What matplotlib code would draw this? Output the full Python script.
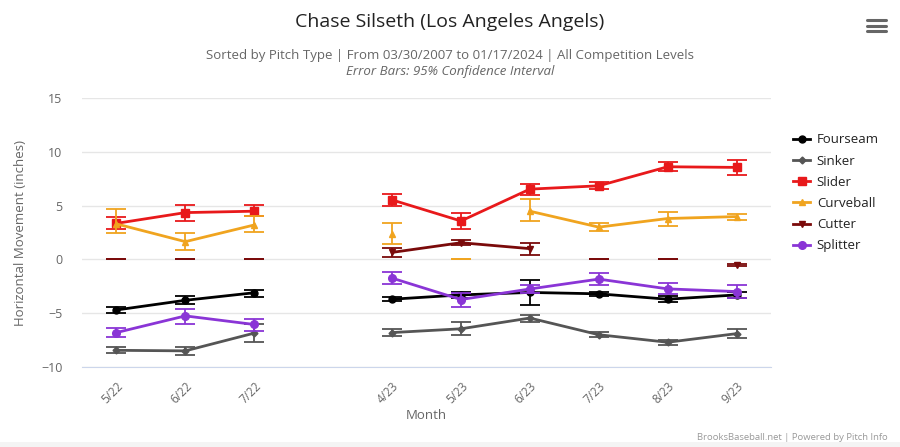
import numpy as np
import matplotlib
matplotlib.use("Agg")
import matplotlib.pyplot as plt
from matplotlib.patches import Rectangle

plt.rcParams['font.family'] = ['Open Sans', 'DejaVu Sans']

MONTHS = ['5/22', '6/22', '7/22', '', '4/23', '5/23', '6/23', '7/23', '8/23', '9/23']
PITCHES = ['Fourseam', 'Sinker', 'Slider', 'Curveball', 'Cutter', 'Splitter']
COLORS = ['#000000', '#555555', '#e8191b', '#f0a41f', '#7a0a0a', '#8a35d6']
MARKERS = ['o', 'D', 's', '^', 'v', 'o']
MSIZES = [5, 3.5, 5.5, 5, 5, 5.5]

# monthly averages (None = no pitches that month)
fourseam = [-4.7, -3.8, -3.1, None, -3.7, -3.3, -3.07, -3.2, -3.7, -3.3]
sinker = [-8.45, -8.5, -6.85, None, -6.8, -6.45, -5.45, -7.0, -7.7, -6.9]
slider = [3.35, 4.35, 4.48, None, 5.53, 3.57, 6.53, 6.84, 8.61, 8.55]
curveball = [3.3, 1.65, 3.2, None, 2.36, None, 4.48, 3.0, 3.8, 3.98]
cutter = [None, None, None, None, 0.65, 1.55, 1.0, None, None, -0.53]
splitter = [-6.8, -5.25, -6.05, None, -1.74, -3.73, -2.75, -1.83, -2.74, -2.99]

# 95% CI bounds
fourseam_lo = [-4.98, -4.13, -3.45, None, -3.89, -3.6, -4.2, -3.36, -3.95, -3.58]
fourseam_hi = [-4.45, -3.42, -2.8, None, -3.45, -3.05, -1.93, -2.99, -3.36, -2.99]
sinker_lo = [-8.7, -8.9, -7.7, None, -7.15, -7.06, -5.78, -7.25, -7.93, -7.28]
sinker_hi = [-8.18, -8.15, -6.0, None, -6.44, -5.85, -5.16, -6.78, -7.49, -6.5]
slider_lo = [2.8, 3.6, 4.04, None, 4.97, 2.8, 6.0, 6.53, 8.24, 7.84]
slider_hi = [3.98, 5.04, 5.04, None, 6.1, 4.32, 7.0, 7.18, 9.08, 9.24]
curveball_lo = [2.43, 0.9, 2.58, None, 1.46, 0.0, 3.6, 2.61, 3.11, 3.7]
curveball_hi = [4.66, 2.43, 4.04, None, 3.42, 0.0, 5.6, 3.36, 4.41, 4.23]
cutter_lo = [0.0, 0.0, 0.0, None, 0.22, 1.3, 0.4, 0.0, 0.0, -0.6]
cutter_hi = [0.0, 0.0, 0.0, None, 1.03, 1.84, 1.56, 0.0, 0.0, -0.46]
splitter_lo = [-7.24, -6.03, -6.62, None, -2.3, -4.38, -3.1, -2.4, -3.26, -3.58]
splitter_hi = [-6.34, -4.57, -5.5, None, -1.15, -3.1, -2.4, -1.27, -2.18, -2.4]

VALUES = [fourseam, sinker, slider, curveball, cutter, splitter]
LOWS = [fourseam_lo, sinker_lo, slider_lo, curveball_lo, cutter_lo, splitter_lo]
HIGHS = [fourseam_hi, sinker_hi, slider_hi, curveball_hi, cutter_hi, splitter_hi]


def to_arr(vals):
    return np.array([np.nan if v is None else v for v in vals], dtype=float)


fig = plt.figure(figsize=(9, 4.47), dpi=100)
ax = fig.add_axes([82 / 900, 1 - 367 / 447, 689 / 900, 269 / 447])

x = np.arange(len(MONTHS))
handles = []
for i, name in enumerate(PITCHES):
    y = to_arr(VALUES[i])
    lo = to_arr(LOWS[i])
    hi = to_arr(HIGHS[i])
    ok = ~np.isnan(lo)
    mid = (lo + hi) / 2
    ax.errorbar(x[ok], mid[ok], yerr=[mid[ok] - lo[ok], hi[ok] - mid[ok]], fmt='none',
                ecolor=COLORS[i], elinewidth=1.3, capsize=7, capthick=1.3, zorder=3 + i)
    h, = ax.plot(x, y, color=COLORS[i], lw=2, marker=MARKERS[i], ms=MSIZES[i],
                 mec=COLORS[i], mfc=COLORS[i], zorder=3 + i, label=name)
    handles.append(h)

ax.set_xlim(-0.5, len(MONTHS) - 0.5)
ax.set_ylim(-10, 15)
ax.set_yticks([-10, -5, 0, 5, 10, 15])
ax.set_xticks(x)
ax.set_xticklabels(MONTHS, rotation=45, ha='right', rotation_mode='anchor',
                   fontsize=8.5, color='#666666')
ax.tick_params(axis='x', length=0, pad=9)
ax.tick_params(axis='y', length=0, pad=14, labelsize=9, labelcolor='#666666')
ax.grid(axis='y', color='#e6e6e6', lw=1)
ax.set_axisbelow(True)
for s in ['top', 'right', 'left']:
    ax.spines[s].set_visible(False)
ax.spines['bottom'].set_color('#ccd6eb')
ax.set_xlabel('Month', fontsize=9.5, color='#666666', labelpad=2)
ax.set_ylabel('Horizontal Movement (inches)', fontsize=9.5, color='#666666', labelpad=10)

leg = fig.legend(handles=handles, loc='upper left', bbox_to_anchor=(0.868, 0.728),
                 frameon=False, fontsize=9.5, handlelength=1.3, handletextpad=0.5,
                 labelspacing=0.62)
for t in leg.get_texts():
    t.set_color('#222222')

fig.text(0.5, 1 - 22 / 447, 'Chase Silseth (Los Angeles Angels)', ha='center', va='center',
         fontsize=14, color='#222222')
fig.text(0.5, 1 - 55 / 447, 'Sorted by Pitch Type | From 03/30/2007 to 01/17/2024 | All Competition Levels',
         ha='center', va='center', fontsize=9.5, color='#666666')
fig.text(0.5, 1 - 72 / 447, 'Error Bars: 95% Confidence Interval', ha='center', va='center',
         fontsize=9.5, color='#666666', style='italic')
fig.text(888 / 900, 1 - 437 / 447, 'BrooksBaseball.net | Powered by Pitch Info', ha='right',
         va='center', fontsize=6.8, color='#999999')

# hamburger menu icon
for yy in [20, 25.7, 31]:
    fig.add_artist(plt.Line2D([867 / 900, 886 / 900], [1 - yy / 447, 1 - yy / 447],
                              color='#666666', lw=2.2, solid_capstyle='round'))
fig.add_artist(Rectangle((0, 0), 1, 5 / 447, transform=fig.transFigure,
                         color='#f4f4f4', lw=0))

fig.savefig('out.png', dpi=100)
